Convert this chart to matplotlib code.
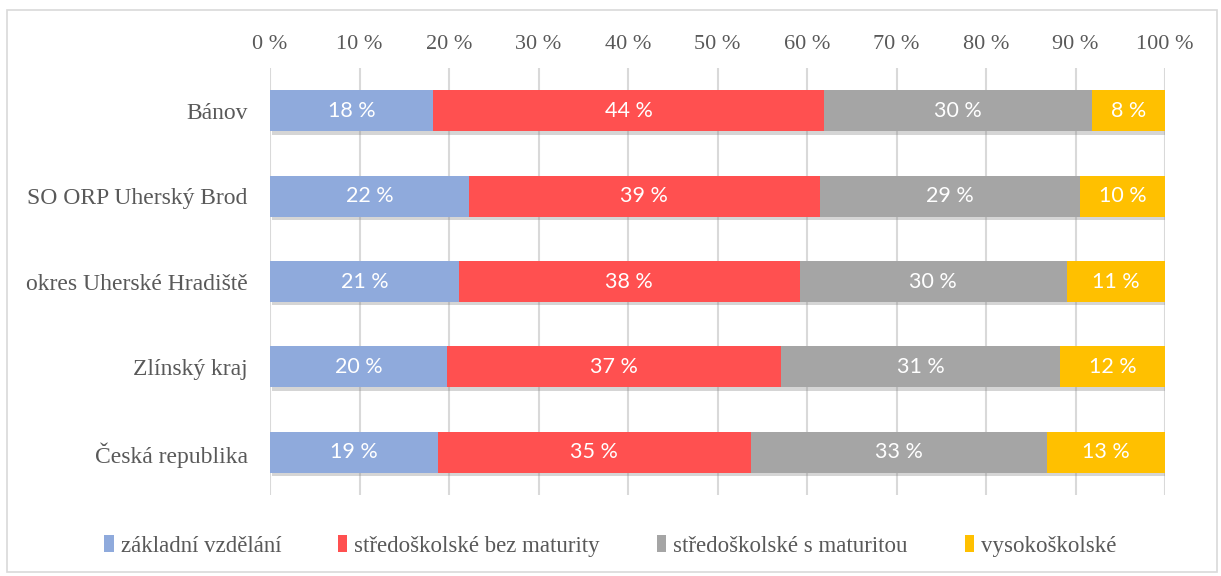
import matplotlib
matplotlib.use("Agg")
import matplotlib.pyplot as plt
import matplotlib.patheffects as pe
from matplotlib.patches import Rectangle, Patch
import numpy as np

categories = ["Bánov", "SO ORP Uherský Brod", "okres Uherské Hradiště", "Zlínský kraj", "Česká republika"]
series_names = ["základní vzdělání", "středoškolské bez maturity", "středoškolské s maturitou", "vysokoškolské"]
zakladni = [18.2, 22.2, 21.1, 19.8, 18.8]
bez_maturity = [43.7, 39.2, 38.1, 37.3, 34.9]
s_maturitou = [29.9, 29.1, 29.8, 31.2, 33.1]
vysokoskolske = [8.2, 9.5, 11.0, 11.7, 13.2]
labels_text = [
    ["18 %", "22 %", "21 %", "20 %", "19 %"],
    ["44 %", "39 %", "38 %", "37 %", "35 %"],
    ["30 %", "29 %", "30 %", "31 %", "33 %"],
    ["8 %", "10 %", "11 %", "12 %", "13 %"],
]
xticks = [0, 10, 20, 30, 40, 50, 60, 70, 80, 90, 100]
xtick_labels = [f"{t} %" for t in xticks]

colors = ["#8FAADC", "#FF5050", "#A5A5A5", "#FFC000"]
serif = ["Liberation Serif", "DejaVu Serif"]
sans = ["Lato", "DejaVu Sans"]

fig = plt.figure(figsize=(12.21, 5.76), dpi=100)
fig.patches.append(Rectangle((7/1221, 4/576), 1210/1221, 562/576, transform=fig.transFigure,
                             fill=False, edgecolor="#D9D9D9", linewidth=1.2))
ax = fig.add_axes([270/1221, 1 - 495/576, 895/1221, 427/576])

y = np.arange(len(categories))
data = [zakladni, bez_maturity, s_maturitou, vysokoskolske]
left = np.zeros(len(categories))
shadow = [pe.SimplePatchShadow(offset=(1.5, -2.5), shadow_rgbFace="#888888", alpha=0.35), pe.Normal()]
for vals, col, name, labs in zip(data, colors, series_names, labels_text):
    bars = ax.barh(y, vals, left=left, height=0.48, color=col, label=name, zorder=3)
    for b in bars:
        b.set_path_effects(shadow)
    for i, (v, l) in enumerate(zip(vals, labs)):
        ax.text(left[i] + v / 2, y[i], l, ha="center", va="center", color="white",
                fontsize=15.5, family=sans, zorder=5)
    left = left + np.array(vals)

ax.set_xlim(0, 100)
ax.set_ylim(len(categories) - 0.5, -0.5)
ax.set_yticks(y)
ax.set_yticklabels(categories, family=serif, fontsize=17, color="#595959")
ax.set_xticks(xticks)
ax.set_xticklabels(xtick_labels, family=serif, fontsize=16, color="#595959")
ax.xaxis.tick_top()
ax.tick_params(axis="both", length=0)
ax.tick_params(axis="x", pad=10)
ax.tick_params(axis="y", pad=16)
ax.grid(axis="x", color="#D9D9D9", linewidth=1.5, zorder=0)
for s in ax.spines.values():
    s.set_visible(False)

handles = [Patch(facecolor=c, edgecolor="none") for c in colors]
leg = fig.legend(handles, series_names, loc="center", bbox_to_anchor=(0.5, 1 - 546/576), ncol=4,
                 frameon=False, prop={"family": serif, "size": 16.5}, handlelength=0.4, handleheight=0.75,
                 handletextpad=0.3, columnspacing=2.5)
for t in leg.get_texts():
    t.set_color("#595959")

fig.savefig("out.png", dpi=100)
